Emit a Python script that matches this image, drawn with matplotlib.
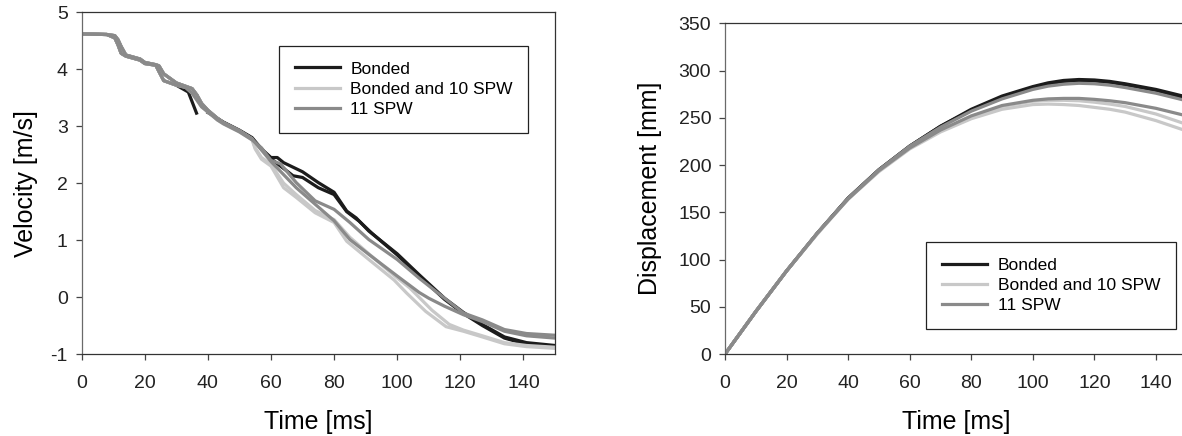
import matplotlib
matplotlib.use("Agg")
import matplotlib.pyplot as plt

plt.rcParams['font.family'] = ['Liberation Sans', 'DejaVu Sans']
plt.rcParams['axes.unicode_minus'] = False

nan = float("nan")

# ---- velocity data ----
# shared stepped start (two slightly shifted variants)
t_early = [0, 8, 10.5, 11.5, 12.5, 14, 18.5, 20, 23.5, 24.5, 26, 30, 33, 35, 36.5, 38, 40, 43, 45, 50, 54]
v_early_a = [4.62, 4.61, 4.55, 4.43, 4.28, 4.23, 4.16, 4.10, 4.07, 3.96, 3.80, 3.72, 3.68, 3.58, 3.46, 3.34, 3.25, 3.11, 3.04, 2.90, 2.76]
v_early_b = [4.62, 4.61, 4.59, 4.52, 4.40, 4.25, 4.18, 4.12, 4.08, 4.06, 3.92, 3.76, 3.70, 3.66, 3.55, 3.40, 3.28, 3.14, 3.06, 2.92, 2.78]

# bonded run with the little hook at ~36 ms (gap where it hides under the others)
t_bond_hook = [0, 8, 10.5, 11.5, 12.5, 14, 18.5, 20, 23.5, 24.5, 26, 30, 33.8, 36.4, 37, 40, 45, 50, 54]
v_bond_hook = [4.62, 4.61, 4.55, 4.43, 4.28, 4.23, 4.16, 4.10, 4.07, 3.96, 3.80, 3.72, 3.60, 3.23, nan, 3.24, 3.07, 2.93, 2.80]

t_bond_a = [57, 60, 62, 64, 67, 70, 75, 80, 84, 87, 91, 100, 107, 115, 121, 127, 134, 141, 150]
v_bond_a = [2.60, 2.45, 2.45, 2.36, 2.28, 2.20, 2.01, 1.84, 1.51, 1.39, 1.16, 0.76, 0.39, -0.02, -0.27, -0.48, -0.70, -0.80, -0.85]
t_bond_b = [57, 60, 63, 67, 70, 75, 80, 84, 88, 92, 100, 107, 115, 121, 127, 134, 141, 150]
v_bond_b = [2.60, 2.43, 2.30, 2.13, 2.10, 1.92, 1.80, 1.50, 1.33, 1.12, 0.74, 0.37, -0.04, -0.29, -0.50, -0.72, -0.83, -0.87]

t_spw10_a = [55, 57, 60, 64, 68, 74, 80, 84, 91, 99, 103, 109, 115.5, 121, 127, 134, 141, 150]
v_spw10_a = [2.60, 2.42, 2.30, 1.92, 1.75, 1.48, 1.31, 0.98, 0.66, 0.30, 0.07, -0.25, -0.52, -0.60, -0.70, -0.82, -0.87, -0.90]
t_spw10_b = [55, 57, 60, 64, 68, 74, 80, 85, 91, 99, 104, 111, 116.5, 121, 127, 134, 141, 150]
v_spw10_b = [2.62, 2.45, 2.33, 2.00, 1.80, 1.52, 1.36, 1.05, 0.76, 0.38, 0.16, -0.23, -0.48, -0.58, -0.68, -0.80, -0.85, -0.88]

t_spw11_a = [57, 60, 63, 68, 74, 80, 85, 91, 100, 107, 115, 121, 127, 134, 141, 150]
v_spw11_a = [2.62, 2.40, 2.34, 2.01, 1.69, 1.54, 1.31, 1.01, 0.66, 0.33, -0.02, -0.28, -0.40, -0.57, -0.64, -0.67]
t_spw11_b = [57, 60, 64, 68, 74, 80, 85, 91, 100, 107, 110, 115, 121, 127, 134, 141, 150]
v_spw11_b = [2.58, 2.38, 2.15, 1.92, 1.63, 1.34, 1.01, 0.75, 0.37, 0.08, -0.02, -0.16, -0.31, -0.43, -0.60, -0.68, -0.72]

# ---- displacement data ----
t_disp = [0, 10, 20, 30, 40, 50, 60, 70, 80, 90, 100, 105, 110, 115, 120, 125, 130, 140, 150]
d_bond_a = [0, 45, 88, 128, 165, 195, 220, 241, 259, 273, 283, 287, 289.5, 290.5, 290, 288.5, 286, 280, 272]
d_bond_b = [0, 45, 88, 128, 165, 195, 220, 241, 258, 272, 282, 286, 288.5, 289.5, 289, 287.5, 285, 279, 270.5]
d_spw11_a = [0, 45, 88, 128, 165, 195, 220, 240, 257, 270, 280, 283.5, 285.5, 286.5, 286, 284.5, 282, 276, 268]
d_spw11_b = [0, 45, 88, 128, 164, 194, 218, 237, 252, 263, 268.5, 270, 270.5, 270.5, 269.5, 268, 266, 260, 252]
d_spw10_a = [0, 45, 88, 128, 164, 194, 218, 236, 251, 262, 267.5, 268.5, 268.5, 268, 266.5, 264.5, 262, 254, 243]
d_spw10_b = [0, 45, 88, 127, 164, 193, 217, 235, 249, 259, 264, 264.5, 264, 263, 261, 259, 256, 247, 236]

labels = ["Bonded", "Bonded and 10 SPW", "11 SPW"]
colors = ["#1c1c1c", "#c8c8c8", "#8a8a8a"]
lw = 2.3

fig = plt.figure(figsize=(11.82, 4.36), dpi=100)
ax1 = fig.add_axes([0.0691, 0.188, 0.4004, 0.7838])
ax2 = fig.add_axes([0.6134, 0.188, 0.3906, 0.7586])

# left: velocity
ax1.plot(t_bond_hook + t_bond_a, v_bond_hook + v_bond_a, color=colors[0], lw=lw, label=labels[0])
ax1.plot(t_early + t_bond_b, v_early_b + v_bond_b, color=colors[0], lw=lw)
ax1.plot(t_early + t_spw10_a, v_early_a + v_spw10_a, color=colors[1], lw=lw, label=labels[1])
ax1.plot(t_early + t_spw10_b, v_early_b + v_spw10_b, color=colors[1], lw=lw)
ax1.plot(t_early + t_spw11_a, v_early_a + v_spw11_a, color=colors[2], lw=lw, label=labels[2])
ax1.plot(t_early + t_spw11_b, v_early_b + v_spw11_b, color=colors[2], lw=lw)
ax1.set_xlim(0, 150)
ax1.set_ylim(-1, 5)
ax1.set_xticks(range(0, 141, 20))
ax1.set_yticks(range(-1, 6))
ax1.set_xlabel("Time [ms]", fontsize=18, labelpad=13)
ax1.set_ylabel("Velocity [m/s]", fontsize=18, labelpad=9)
leg1 = ax1.legend(loc="upper left", bbox_to_anchor=(0.417, 0.902), borderaxespad=0,
                  fancybox=False, edgecolor="#222222", fontsize=12.5, handlelength=2.6,
                  handletextpad=0.6, labelspacing=0.3, borderpad=0.9, framealpha=1)
leg1.get_frame().set_linewidth(0.9)

# right: displacement
ax2.plot(t_disp, d_bond_a, color=colors[0], lw=lw, label=labels[0])
ax2.plot(t_disp, d_bond_b, color=colors[0], lw=lw)
ax2.plot(t_disp, d_spw10_a, color=colors[1], lw=lw, label=labels[1])
ax2.plot(t_disp, d_spw10_b, color=colors[1], lw=lw)
ax2.plot(t_disp, d_spw11_a, color=colors[2], lw=lw, label=labels[2])
ax2.plot(t_disp, d_spw11_b, color=colors[2], lw=lw)
ax2.set_xlim(0, 150)
ax2.set_ylim(0, 350)
ax2.set_xticks(range(0, 141, 20))
ax2.set_yticks(range(0, 351, 50))
ax2.set_xlabel("Time [ms]", fontsize=18, labelpad=13)
ax2.set_ylabel("Displacement [mm]", fontsize=18, labelpad=12)
leg2 = ax2.legend(loc="lower left", bbox_to_anchor=(0.436, 0.0755), borderaxespad=0,
                  fancybox=False, edgecolor="#222222", fontsize=12.5, handlelength=2.6,
                  handletextpad=0.6, labelspacing=0.3, borderpad=0.9, framealpha=1)
leg2.get_frame().set_linewidth(0.9)

for ax in (ax1, ax2):
    for side in ("top", "right", "bottom"):
        ax.spines[side].set_color("#333333")
        ax.spines[side].set_linewidth(0.9)
    ax.spines["left"].set_color("#6a6a6a")
    ax.spines["left"].set_linewidth(0.9)
    ax.tick_params(direction="out", length=4, width=0.9, color="#444444",
                   labelsize=14, labelcolor="#222222", pad=6)
    ax.tick_params(axis="x", pad=11)

fig.savefig("out.png", dpi=100)
